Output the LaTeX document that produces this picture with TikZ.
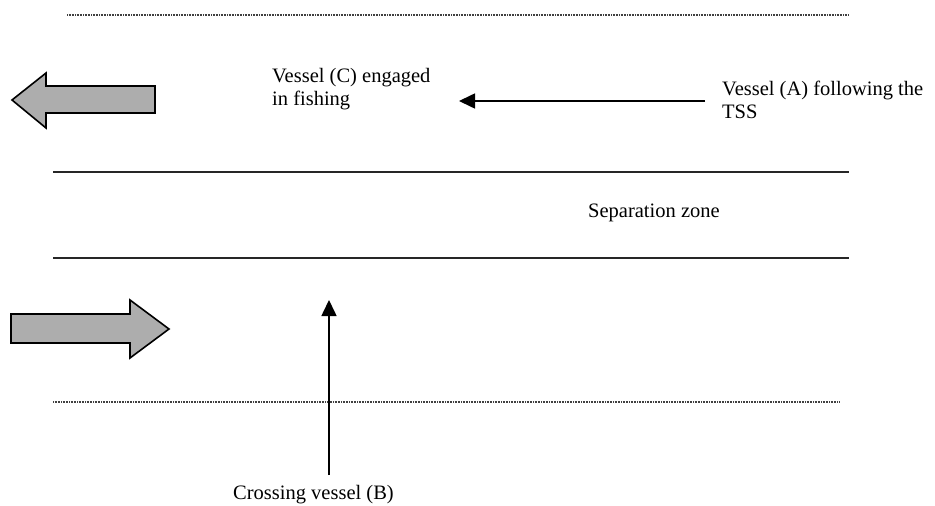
\documentclass[tikz,border=0pt]{standalone}
\usepackage{fontspec}
\setmainfont{Liberation Serif}
\usetikzlibrary{arrows.meta}
\begin{document}
\begin{tikzpicture}[x=1pt,y=-1pt,
  dotline/.style={line width=1.2pt, dash pattern=on 0.8pt off 0.8pt, black!75},
  laneline/.style={line width=1.3pt, black!85},
  blockarrow/.style={draw=black, line width=1.6pt, fill=black!32, line join=miter},
  course/.style={line width=1.6pt, -{Triangle[length=16pt,width=15pt]}},
  lbl/.style={font=\fontsize{20.5}{22.5}\selectfont, inner sep=0pt, align=left, anchor=base west}
]
\useasboundingbox (0,0) rectangle (935,506);
% lane boundaries
\coordinate (t0) at (67,15);   \coordinate (t1) at (848,15);
\coordinate (m0) at (53,172);  \coordinate (m1) at (849,172);
\coordinate (n0) at (53,258);  \coordinate (n1) at (849,258);
\coordinate (d0) at (53,402);  \coordinate (d1) at (840,402);
\draw[dotline] (t0) -- (t1);
\draw[laneline] (m0) -- (m1);
\draw[laneline] (n0) -- (n1);
\draw[dotline] (d0) -- (d1);
% traffic direction block arrows
\draw[blockarrow] (12,100) -- (46,73) -- (46,86) -- (155,86) -- (155,113) -- (46,113) -- (46,128) -- cycle;
\draw[blockarrow] (169,329) -- (130,300) -- (130,314) -- (11,314) -- (11,343) -- (130,343) -- (130,358) -- cycle;
% labels (base = baseline of the last line)
\node[lbl] (C) at (272,105) {Vessel (C) engaged\\in fishing};
\node[lbl] (A) at (722,118) {Vessel (A) following the\\TSS};
\node[lbl] (S) at (588,217) {Separation zone};
\node[lbl] (B) at (233,499) {Crossing vessel (B)};
% vessel courses
\coordinate (a0) at (705,101);
\coordinate (a1) at (459,101);
\coordinate (b0) at (329,475);
\coordinate (b1) at (329,300);
\draw[course] (a0) -- (a1);
\draw[course] (b0) -- (b1);
\end{tikzpicture}
\end{document}
